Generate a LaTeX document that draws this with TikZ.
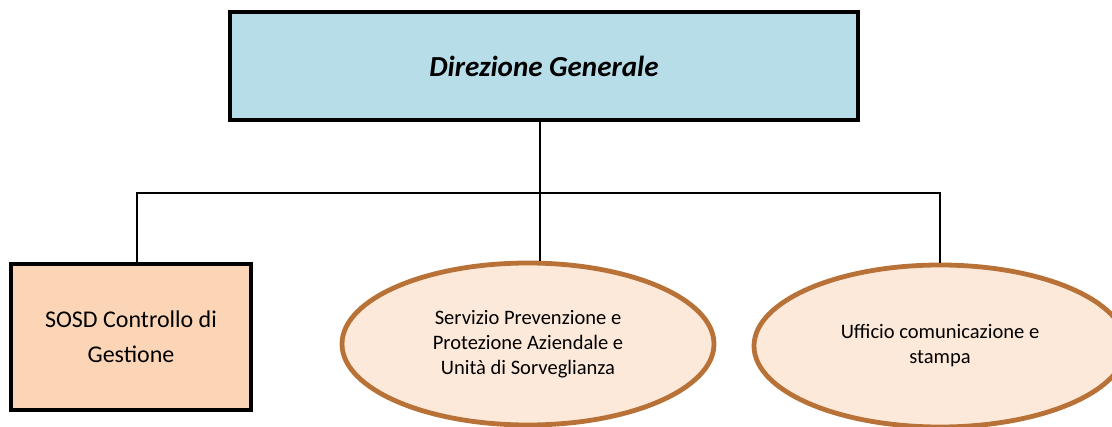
\documentclass[tikz,border=0pt]{standalone}
\usepackage{fontspec}
\setmainfont{Carlito}
\usetikzlibrary{shapes.geometric}
\definecolor{topblue}{RGB}{183,221,232}
\definecolor{peach}{RGB}{251,213,181}
\definecolor{lightpeach}{RGB}{253,233,217}
\definecolor{brownline}{RGB}{184,113,54}
\tikzset{
  conn/.style={draw=black, line width=2.2pt},
  topbox/.style={draw=black, line width=3pt, fill=topblue, minimum width=628*0.75pt, minimum height=108*0.75pt, inner sep=0pt,
    font=\fontsize{21.8}{25}\selectfont\bfseries\itshape},
  sqbox/.style={draw=black, line width=2.4pt, fill=peach, minimum width=240*0.75pt, minimum height=146*0.75pt, inner sep=0pt,
    align=center, font=\fontsize{18}{26}\selectfont},
  ellbox/.style={ellipse, draw=brownline, line width=3.6pt, fill=lightpeach, minimum width=372*0.75pt, minimum height=162*0.75pt, inner sep=0pt,
    align=center, font=\fontsize{15.4}{18.8}\selectfont}
}
\begin{document}
\begin{tikzpicture}[x=0.75pt,y=-0.75pt]
\useasboundingbox (0,0) rectangle (1112,427);
\clip (0,0) rectangle (1112,427);
\node[topbox] (dg) at (544,66) {Direzione Generale};
\node[sqbox] (sosd) at (131,337) {SOSD Controllo di\\Gestione};
\node[ellbox] (spp) at (528,344) {Servizio Prevenzione e\\Protezione Aziendale e\\Unità di Sorveglianza};
\node[ellbox] (uff) at (940,346) {Ufficio comunicazione e\\stampa};
\coordinate (bar) at (540,193);
\draw[conn] (dg.south -| bar) -- (bar);
\draw[conn] (sosd.north -| 137,0) -- (137,193) -- (940,193) -- (uff.north);
\draw[conn] (bar) -- (spp.north -| bar);
\end{tikzpicture}
\end{document}
